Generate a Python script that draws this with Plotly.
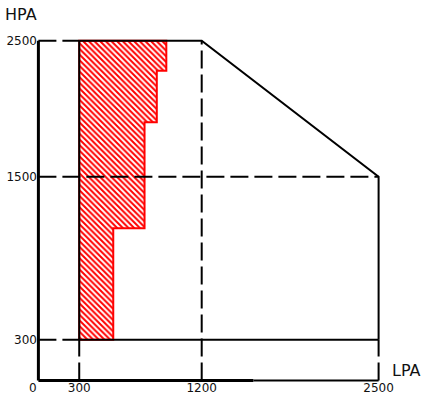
import plotly.graph_objects as go

# envelope values (LPA on x, HPA on y)
lpa_min, lpa_mid, lpa_max = 300, 1200, 2500
hpa_min, hpa_mid, hpa_max = 300, 1500, 2500

# stepped hatched region: right edge of each step and its lower bound
step_right = [550, 780, 870, 940]
step_bottom = [300, 1120, 1900, 2280]

x_ticks = [300, 1200, 2500]
x_tick_text = ["300", "1200", "2500"]
y_ticks = [300, 1500, 2500]
y_tick_text = ["300", "1500", "2500"]

BLACK = "#000000"
RED = "#ff0000"
DASH = "18px,6px"
LW = 2

fig = go.Figure()

# hatched region polygon
hx = [lpa_min]
hy = [step_bottom[0]]
for i, r in enumerate(step_right):
    top = step_bottom[i + 1] if i + 1 < len(step_bottom) else hpa_max
    hx += [r, r]
    hy += [step_bottom[i], top]
hx += [lpa_min, lpa_min]
hy += [hpa_max, step_bottom[0]]
fig.add_trace(go.Scatter(
    x=hx, y=hy, mode="lines", fill="toself",
    fillcolor="white",
    fillpattern=dict(shape="\\", fgcolor=RED, bgcolor="white", fgopacity=1,
                     size=4, solidity=0.5),
    line=dict(color=RED, width=2), hoverinfo="skip", showlegend=False))


def seg(x, y, dash="solid", width=LW):
    fig.add_trace(go.Scatter(x=x, y=y, mode="lines",
                             line=dict(color=BLACK, width=width, dash=dash),
                             hoverinfo="skip", showlegend=False))


# dashed guide lines
seg([0, lpa_min], [hpa_max, hpa_max], DASH)
seg([0, lpa_max], [hpa_mid, hpa_mid], DASH)
seg([0, lpa_min], [hpa_min, hpa_min], DASH)
seg([lpa_min, lpa_min], [0, hpa_min], DASH)
seg([lpa_mid, lpa_mid], [0, hpa_max], DASH)
seg([lpa_max, lpa_max], [0, hpa_min], DASH)

# solid envelope
seg([lpa_min, lpa_mid, lpa_max, lpa_max], [hpa_max, hpa_max, hpa_mid, hpa_min])
seg([lpa_min, lpa_max], [hpa_min, hpa_min])
seg([lpa_min, lpa_min], [hpa_min, hpa_max])

# axes lines
seg([0, 0], [0, hpa_max], width=3)
seg([0, 1580], [0, 0], width=3)
seg([1580, lpa_max], [0, 0], width=2)

font = dict(family="DejaVu Sans", size=12, color="#111111")
tfont = dict(family="DejaVu Sans", size=16, color="#111111")

fig.update_layout(
    width=438, height=401,
    margin=dict(l=35, r=25, t=10, b=17),
    paper_bgcolor="white", plot_bgcolor="white",
    hovermode=False,
    xaxis=dict(range=[-25, 2752.8], tickvals=x_ticks, ticktext=x_tick_text,
               showgrid=False, zeroline=False, showline=False, automargin=False,
               ticks="", tickfont=font, ticklabelstandoff=-5),
    yaxis=dict(range=[-25, 2726.6], tickvals=y_ticks, ticktext=y_tick_text,
               showgrid=False, zeroline=False, showline=False, automargin=False,
               ticks="", tickfont=font, ticklabelstandoff=-3),
    annotations=[
        dict(x=0, y=0, xref="x", yref="y", text="0", showarrow=False,
             xanchor="center", yanchor="middle", xshift=-5, yshift=-7, font=font),
        dict(x=0, y=hpa_max, xref="x", yref="y", text="HPA", showarrow=False,
             xanchor="center", yanchor="middle", xshift=-17, yshift=26, font=tfont),
        dict(x=lpa_max, y=0, xref="x", yref="y", text="LPA", showarrow=False,
             xanchor="center", yanchor="middle", xshift=28, yshift=10, font=tfont),
    ],
)

fig.write_html("out.html",
               config={"displayModeBar": False},
               post_script="document.body.style.margin='0';"
                           "document.body.style.overflow='hidden';")
